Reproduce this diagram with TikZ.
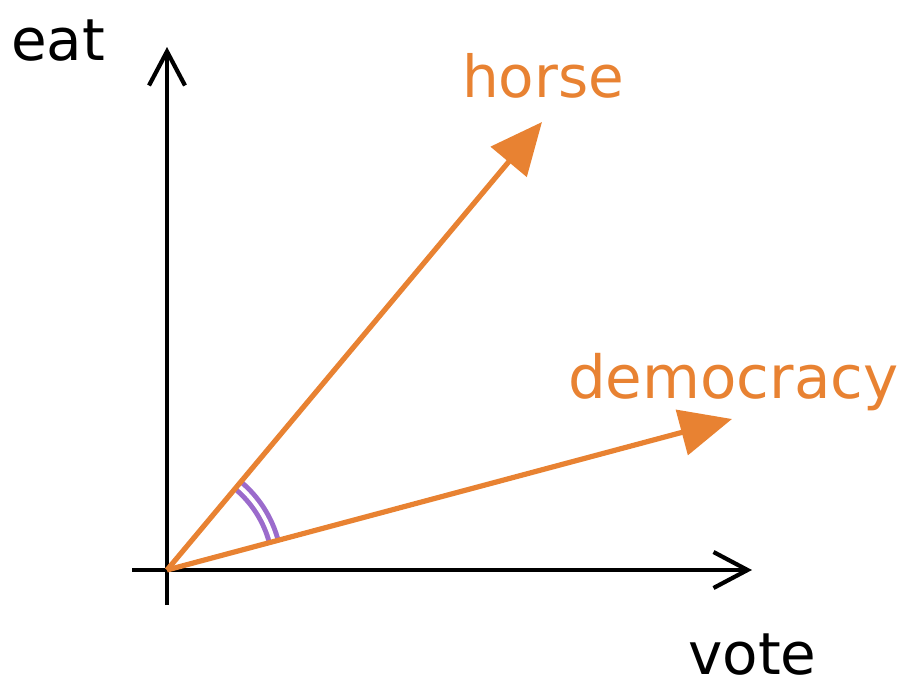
\documentclass[tikz,border=0pt]{standalone}
\usepackage{fontspec}
\setmainfont{DejaVu Sans}
\usetikzlibrary{arrows.meta}
\definecolor{vecorange}{RGB}{232,130,50}
\definecolor{anglepurple}{RGB}{155,107,204}
\begin{document}
\begin{tikzpicture}[x=1pt,y=-1pt,
  axisline/.style={line width=4.2pt,black,-{Straight Barb[length=34pt,width=36pt,line width=4.2pt]}},
  vecline/.style={line width=5.2pt,vecorange,-{Triangle[length=52pt,width=46pt]}},
  lbl/.style={inner sep=0pt,anchor=base west,text depth=0pt,font=\fontsize{58}{60}\selectfont},
  anglearc/.style={anglepurple,line width=5pt,double=white,double distance=4pt}]
\useasboundingbox (0,0) rectangle (898,681);
\coordinate (O) at (167,570);
\coordinate (ybot) at (167,605);
\coordinate (ytop) at (167,47);
\coordinate (xleft) at (132,570);
\coordinate (xright) at (752,570);
\coordinate (horsetip) at (542,122);
\coordinate (demtip) at (732,419);
% angle arc
\draw[anglearc] ([shift={(15:110.5pt)}]O) arc[start angle=-15,end angle=-50,radius=110.5];
% axes
\draw[axisline] (ybot) -- (ytop);
\draw[axisline] (xleft) -- (xright);
% vectors
\draw[vecline] (O) -- (horsetip);
\draw[vecline] (O) -- (demtip);
% labels
\node[lbl] (eat) at (11,60) {eat};
\node[lbl] (vote) at (688,674) {vote};
\node[lbl,text=vecorange] (horse) at (462,97) {horse};
\node[lbl,text=vecorange,font=\fontsize{59.5}{61}\selectfont] (democracy) at (568,398) {democracy};
\end{tikzpicture}
\end{document}
